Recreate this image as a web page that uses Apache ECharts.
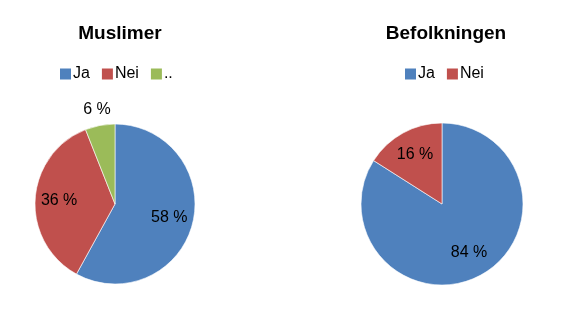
<!DOCTYPE html>
<html>
<head>
<meta charset="utf-8">
<script src="https://cdn.jsdelivr.net/npm/echarts@6/dist/echarts.min.js"></script>
<style>html,body{margin:0;padding:0;background:#fff;}#c{width:571px;height:309px;}</style>
</head>
<body>
<div id="c"></div>
<script>
const titles = ['Muslimer', 'Befolkningen'];
const catsLeft = ['Ja', 'Nei', '..'];
const valsLeft = [58, 36, 6];
const catsRight = ['Ja', 'Nei'];
const valsRight = [84, 16];
const colors = {'Ja': '#4F81BD', 'Nei': '#C0504D', '..': '#9BBB59'};

const FONT = 'Liberation Sans';
const chart = echarts.init(document.getElementById('c'), null, {renderer: 'canvas'});

function pieData(cats, vals) {
  return cats.map((c, i) => ({
    name: c, value: vals[i],
    itemStyle: {color: colors[c]}
  }));
}
function overlayData(cats, vals, showFn) {
  return cats.map((c, i) => ({
    name: c, value: vals[i],
    itemStyle: {color: 'rgba(0,0,0,0)', borderWidth: 0},
    label: {show: showFn(c, vals[i])}
  }));
}
const labelStyle = {position: 'inside', formatter: '{c} %', color: '#000', fontFamily: FONT, fontSize: 16};

const centers = [[115, 204], [442, 204]];
const legendText = {fontFamily: FONT, fontSize: 16, color: '#000', padding: [0, 0, 0, -3]};

chart.setOption({
  animation: false,
  title: [
    {text: titles[0], left: 115, top: 19, textAlign: 'center', textStyle: {fontFamily: FONT, fontWeight: 'bold', fontSize: 19, color: '#000'}},
    {text: titles[1], left: 441, top: 19, textAlign: 'center', textStyle: {fontFamily: FONT, fontWeight: 'bold', fontSize: 19, color: '#000'}}
  ],
  legend: [
    {left: 60, top: 66, padding: 0, icon: 'rect', itemWidth: 11, itemHeight: 11, itemGap: 12,
     itemStyle: {borderWidth: 0},
     data: catsLeft.map(c => ({name: c, itemStyle: {color: colors[c], borderWidth: 0}})),
     textStyle: legendText, selectedMode: false},
    {left: 405, top: 66, padding: 0, icon: 'rect', itemWidth: 11, itemHeight: 11, itemGap: 12,
     itemStyle: {borderWidth: 0},
     data: catsRight.map(c => ({name: c, itemStyle: {color: colors[c], borderWidth: 0}})),
     textStyle: legendText, selectedMode: false}
  ],
  series: [
    {type: 'pie', center: centers[0], radius: [0, 80], startAngle: 90, clockwise: true, silent: true,
     itemStyle: {borderColor: '#fff', borderWidth: 0.6}, label: {show: false}, labelLine: {show: false},
     data: pieData(catsLeft, valsLeft)},
    {type: 'pie', center: centers[0], radius: [0, 106], startAngle: 90, clockwise: true, silent: true, z: 3,
     label: labelStyle, labelLine: {show: false},
     data: overlayData(catsLeft, valsLeft, (c, v) => v >= 10)},
    {type: 'pie', center: centers[0], radius: [0, 186], startAngle: 90, clockwise: true, silent: true, z: 3,
     label: labelStyle, labelLine: {show: false},
     data: overlayData(catsLeft, valsLeft, (c, v) => v < 10)},
    {type: 'pie', center: centers[1], radius: [0, 81], startAngle: 90, clockwise: true, silent: true,
     itemStyle: {borderColor: '#fff', borderWidth: 0.6}, label: {show: false}, labelLine: {show: false},
     data: pieData(catsRight, valsRight)},
    {type: 'pie', center: centers[1], radius: [0, 106], startAngle: 90, clockwise: true, silent: true, z: 3,
     label: labelStyle, labelLine: {show: false},
     data: overlayData(catsRight, valsRight, () => true)}
  ]
});
</script>
</body>
</html>
